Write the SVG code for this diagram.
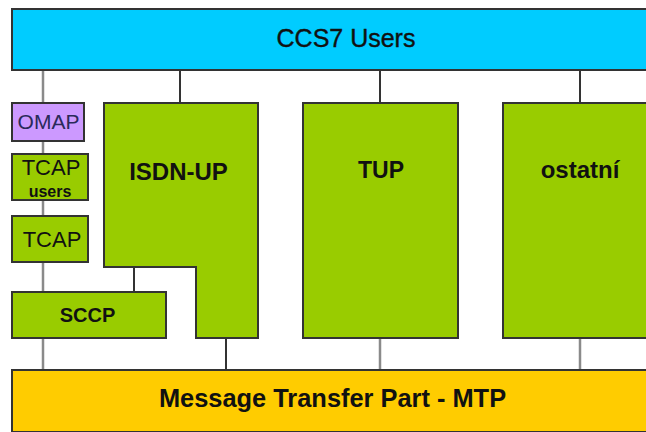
<svg xmlns="http://www.w3.org/2000/svg" width="646" height="432" viewBox="0 0 646 432">
<style>
.box{stroke:#333;stroke-width:2}
.green{fill:#99CC00}
.t{font-family:"Liberation Sans",Arial,sans-serif;fill:#111;text-anchor:middle}
.b{font-weight:bold}
.c{stroke:#333;stroke-width:2;fill:none}
.g{stroke:#8a8a8a;stroke-width:2.5;fill:none}
</style>
<rect width="646" height="432" fill="#fff"/>
<g id="connectors">
<line class="g" x1="43" y1="70" x2="43" y2="370"/>
<line class="c" x1="180" y1="70" x2="180" y2="103"/>
<line class="c" x1="380" y1="70" x2="380" y2="103"/>
<line class="c" x1="580" y1="70" x2="580" y2="103"/>
<line class="c" x1="134" y1="267" x2="134" y2="292"/>
<line class="c" x1="226" y1="338" x2="226" y2="370"/>
<line class="g" x1="380" y1="338" x2="380" y2="370"/>
<line class="g" x1="580" y1="338" x2="580" y2="370"/>
</g>
<g id="ccs7-users">
<rect class="box" x="12" y="9" width="640" height="61" fill="#00CCFF"/>
<text class="t" x="346" y="47" font-size="25" style="stroke:#111;stroke-width:0.4">CCS7 Users</text>
</g>
<g id="omap">
<rect class="box" x="12" y="103" width="72" height="38" fill="#CC99FF"/>
<text class="t" x="48.5" y="129" font-size="21" style="fill:#2a2a5a">OMAP</text>
</g>
<g id="tcap-users">
<rect class="box green" x="12" y="154" width="76" height="46"/>
<text class="t" x="51" y="175" font-size="22">TCAP</text>
<text class="t b" x="50" y="197" font-size="16">users</text>
</g>
<g id="tcap">
<rect class="box green" x="12" y="216" width="76" height="46"/>
<text class="t" x="52" y="247" font-size="22">TCAP</text>
</g>
<g id="sccp">
<rect class="box green" x="12" y="292" width="154" height="46"/>
<text class="t b" x="87.5" y="322" font-size="20">SCCP</text>
</g>
<g id="isdn-up">
<polygon class="box green" points="104,103 258,103 258,338 196,338 196,267 104,267"/>
<text class="t b" x="178.5" y="180" font-size="24">ISDN-UP</text>
</g>
<g id="tup">
<rect class="box green" x="303" y="103" width="155" height="235"/>
<text class="t b" x="381" y="178" font-size="23">TUP</text>
</g>
<g id="ostatni">
<rect class="box green" x="503" y="103" width="150" height="235"/>
<text class="t b" x="580" y="178" font-size="24">ostatní</text>
</g>
<g id="mtp">
<rect class="box" x="12" y="370" width="640" height="62" fill="#FFCC00"/>
<text class="t b" x="332.5" y="407" font-size="25.4">Message Transfer Part - MTP</text>
</g>
</svg>
